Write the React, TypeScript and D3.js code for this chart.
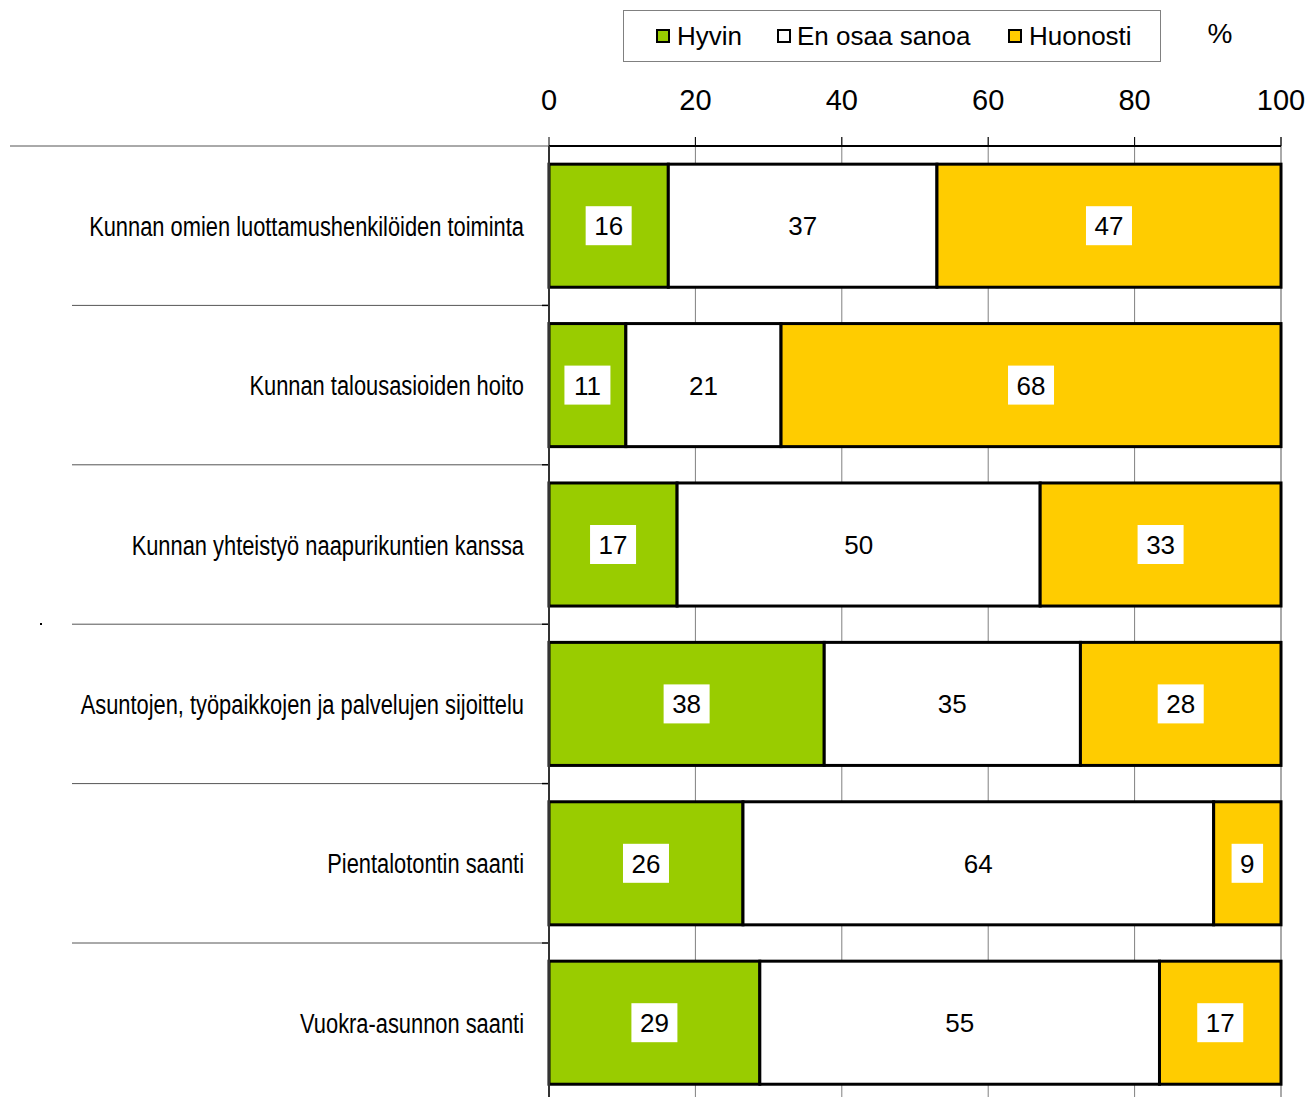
import React, { useEffect } from "react";
import * as d3 from "d3";

const categories = [
  "Kunnan omien luottamushenkilöiden toiminta",
  "Kunnan talousasioiden hoito",
  "Kunnan yhteistyö naapurikuntien kanssa",
  "Asuntojen, työpaikkojen ja palvelujen sijoittelu",
  "Pientalotontin saanti",
  "Vuokra-asunnon saanti",
];
const hyvin = [16.3, 10.5, 17.5, 37.6, 26.5, 28.8];
const enOsaa = [36.7, 21.2, 49.6, 35.0, 64.3, 54.6];
const huonosti = [47.0, 68.3, 32.9, 27.4, 9.2, 16.6];
const hyvinLabels = [16, 11, 17, 38, 26, 29];
const enOsaaLabels = [37, 21, 50, 35, 64, 55];
const huonostiLabels = [47, 68, 33, 28, 9, 17];
const seriesNames = ["Hyvin", "En osaa sanoa", "Huonosti"];
const seriesColors = ["#99CC00", "#FFFFFF", "#FFCC00"];
const xTicks = [0, 20, 40, 60, 80, 100];

const W = 1311;
const H = 1097;
const FONT = "'Liberation Sans', Arial, sans-serif";

export default function App() {
  useEffect(() => {
    document.body.style.margin = "0";
  }, []);

  const x = d3.scaleLinear().domain([0, 100]).range([549, 1281]);
  const step = (943 - 146) / 5;
  const y = d3
    .scaleBand<string>()
    .domain(categories)
    .range([146, 146 + step * categories.length])
    .paddingInner(0)
    .paddingOuter(0);
  const barH = step * 0.772;

  const series = [hyvin, enOsaa, huonosti];
  const labels = [hyvinLabels, enOsaaLabels, huonostiLabels];
  const plotBottom = H + 10;

  const legendItems = [
    { mx: 657, tx: 677 },
    { mx: 778, tx: 797 },
    { mx: 1009, tx: 1029 },
  ];

  return (
    <svg width={W} height={H} style={{ display: "block", background: "#fff" }}>
      {/* gridlines */}
      {xTicks.slice(1).map((t) => (
        <line
          key={"g" + t}
          x1={x(t)}
          x2={x(t)}
          y1={137}
          y2={plotBottom}
          stroke={t === 100 ? "#aaaaaa" : "#808080"}
          strokeWidth={t === 100 ? 2 : 1}
        />
      ))}
      {/* top axis */}
      <line x1={x(0)} x2={x(100)} y1={146} y2={146} stroke="#000" strokeWidth={2} />
      {xTicks.map((t) => (
        <line key={"t" + t} x1={x(t)} x2={x(t)} y1={137} y2={146} stroke="#000" strokeWidth={1} />
      ))}
      {xTicks.map((t) => (
        <text
          key={"l" + t}
          x={x(t)}
          y={110}
          textAnchor="middle"
          fontFamily={FONT}
          fontSize={29}
          fill="#000"
        >
          {t}
        </text>
      ))}
      {/* category separators */}
      <line x1={10} x2={549} y1={146} y2={146} stroke="#555" strokeWidth={1} />
      {categories.slice(1).map((c) => (
        <g key={"s" + c}>
          <line x1={72} x2={542} y1={y(c)!} y2={y(c)!} stroke="#555" strokeWidth={1} />
          <line x1={542} x2={549} y1={y(c)!} y2={y(c)!} stroke="#000" strokeWidth={1.5} />
        </g>
      ))}
      <rect x={40} y={623} width={2} height={2} fill="#000" />
      {/* bars */}
      {categories.map((c, i) => {
        const cy = y(c)! + step / 2;
        let acc = 0;
        return (
          <g key={"b" + c}>
            {series.map((s, k) => {
              const x0 = x(acc);
              acc += s[i];
              const x1 = x(Math.min(acc, 100));
              return (
                <rect
                  key={k}
                  x={x0}
                  y={cy - barH / 2}
                  width={x1 - x0}
                  height={barH}
                  fill={seriesColors[k]}
                  stroke="#000"
                  strokeWidth={3}
                />
              );
            })}
          </g>
        );
      })}
      {/* labels */}
      {categories.map((c, i) => {
        const cy = y(c)! + step / 2;
        let acc = 0;
        return (
          <g key={"lb" + c}>
            {series.map((s, k) => {
              const mid = x(acc + s[i] / 2);
              acc += s[i];
              const txt = String(labels[k][i]);
              const bw = txt.length * 14.5 + 17;
              return (
                <g key={k}>
                  {k !== 1 && (
                    <rect x={mid - bw / 2} y={cy - 19.5} width={bw} height={39} fill="#fff" />
                  )}
                  <text
                    x={mid}
                    y={cy + 9.5}
                    textAnchor="middle"
                    fontFamily={FONT}
                    fontSize={26}
                    fill="#000"
                  >
                    {txt}
                  </text>
                </g>
              );
            })}
          </g>
        );
      })}
      {/* left axis */}
      <line x1={549} x2={549} y1={146} y2={plotBottom} stroke="#333" strokeWidth={2} />
      {/* category labels (narrow) */}
      {categories.map((c) => (
        <g key={"c" + c} transform={`translate(524, ${y(c)! + step / 2 + 10}) scale(0.81, 1)`}>
          <text x={0} y={0} textAnchor="end" fontFamily={FONT} fontSize={27} fill="#000">
            {c}
          </text>
        </g>
      ))}
      {/* legend */}
      <rect x={623.5} y={10.5} width={537} height={51} fill="#fff" stroke="#808080" strokeWidth={1} />
      {seriesNames.map((n, k) => (
        <g key={"lg" + n}>
          <rect
            x={legendItems[k].mx}
            y={30}
            width={12}
            height={12}
            fill={seriesColors[k]}
            stroke="#000"
            strokeWidth={2}
          />
          <text x={legendItems[k].tx} y={45} fontFamily={FONT} fontSize={26} fill="#000">
            {n}
          </text>
        </g>
      ))}
      <text x={1220} y={43} textAnchor="middle" fontFamily={FONT} fontSize={28} fill="#000">
        %
      </text>
    </svg>
  );
}
